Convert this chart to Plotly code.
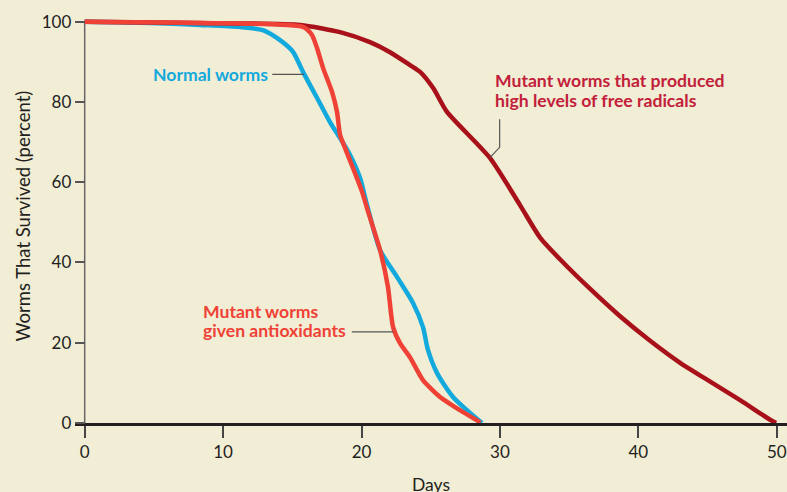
import plotly.graph_objects as go

# ---- data ----
normal_days = [0, 4.72, 8.33, 11.22, 12.88, 14.11, 15.05, 15.77, 16.79, 17.72, 18.45,
               19.17, 19.89, 20.40, 21.34, 22.56, 23.72, 24.44, 24.80, 25.45, 26.61, 28.70]
normal_surv = [100, 99.7, 99.2, 98.7, 97.9, 95.4, 92.5, 87.5, 81.0, 75.0, 71.0,
               66.8, 61.1, 54.3, 43.1, 36.4, 29.9, 23.9, 18.2, 12.5, 6.5, 0]

antiox_days = [0, 8.33, 15.77, 16.42, 16.79, 17.22, 17.87, 18.23, 18.45, 18.81, 19.39,
               20.04, 20.48, 21.34, 21.91, 22.28, 22.78, 23.50, 24.44, 25.67, 27.11, 28.41, 28.56]
antiox_surv = [100, 99.7, 98.7, 96.7, 93.4, 88.5, 82.5, 77.5, 71.8, 68.5, 63.5,
               57.6, 52.6, 43.1, 33.9, 23.9, 19.9, 16.4, 10.7, 6.5, 3.2, 0.5, 0]

radical_days = [0, 8.33, 15.56, 18.45, 20.61, 22.06, 23.50, 24.23, 25.19, 26.16,
                29.29, 31.45, 32.90, 34.34, 36.52, 38.68, 40.85, 43.02, 45.19,
                47.35, 49.52, 49.95]
radical_surv = [100, 99.7, 99.2, 97.4, 94.9, 92.4, 89.2, 87.5, 83.4, 77.6,
                66.0, 54.3, 46.2, 40.8, 33.4, 26.6, 20.5, 15.0, 10.3,
                5.7, 0.8, 0]

x_ticks = [0, 10, 20, 30, 40, 50]
y_ticks = [0, 20, 40, 60, 80, 100]

BG = "#f2edd5"
BLUE = "#12a9dd"
RED = "#ef4136"
DARKRED = "#a8111a"
LABEL_DARKRED = "#c2203a"
INK = "#231f20"
FONT = "Lato, sans-serif"

fig = go.Figure()
fig.add_trace(go.Scatter(x=normal_days, y=normal_surv, mode="lines",
                         line=dict(color=BLUE, width=4.5, shape="spline", smoothing=0.7)))
fig.add_trace(go.Scatter(x=radical_days, y=radical_surv, mode="lines",
                         line=dict(color=DARKRED, width=4.5, shape="spline", smoothing=0.6)))
fig.add_trace(go.Scatter(x=antiox_days, y=antiox_surv, mode="lines",
                         line=dict(color=RED, width=4.5, shape="spline", smoothing=0.6)))

# y-axis line (stops at 100)
fig.add_shape(type="line", xref="x", yref="y", x0=0, x1=0, y0=0, y1=100,
              line=dict(color="#666666", width=1.5), layer="below")

# leader lines
fig.add_shape(type="line", xref="x", yref="y", x0=13.55, x1=15.85, y0=86.9, y1=86.9,
              line=dict(color="#555555", width=1.2))
fig.add_shape(type="line", xref="x", yref="y", x0=19.3, x1=22.3, y0=22.7, y1=22.7,
              line=dict(color="#555555", width=1.2))
fig.add_shape(type="path", xref="x", yref="y",
              path="M 29.98 75.7 L 29.98 68.7 L 29.29 66.2",
              line=dict(color="#555555", width=1.2))

# labels (one annotation per line to keep tight line spacing)
def label(x, y, text, color, anchor):
    fig.add_annotation(x=x, y=y, xref="x", yref="y", text="<b>" + text + "</b>",
                       showarrow=False, xanchor=anchor, yanchor="middle",
                       font=dict(family=FONT, size=17.6, color=color))

label(13.42, 86.97, "Normal worms", BLUE, "right")
label(8.37, 27.9, "Mutant worms", RED, "left")
label(8.37, 23.17, "given antioxidants", RED, "left")
label(29.47, 85.3, "Mutant worms that produced", LABEL_DARKRED, "left")
label(29.47, 80.3, "high levels of free radicals", LABEL_DARKRED, "left")

# axis titles
fig.add_annotation(x=0.5, y=-0.1186, xref="paper", yref="paper", text="Days",
                   showarrow=False, xanchor="center", yanchor="top",
                   font=dict(family=FONT, size=17.5, color=INK))
fig.add_annotation(x=-0.0744, y=0.5, xref="paper", yref="paper",
                   text="Worms That Survived (percent)", textangle=-90,
                   showarrow=False, xanchor="center", yanchor="middle",
                   font=dict(family=FONT, size=18.5, color=INK))

fig.update_layout(
    width=787, height=492,
    margin=dict(l=75, r=0, t=10, b=69),
    paper_bgcolor=BG, plot_bgcolor=BG,
    showlegend=False,
    xaxis=dict(range=[-0.7, 50.74], tickvals=x_ticks, ticks="outside", ticklen=12,
               tickwidth=1.5, tickcolor="#444444", showgrid=False, zeroline=False,
               showline=True, linecolor=INK, linewidth=3, ticklabeloverflow="allow",
               tickfont=dict(family=FONT, size=17, color=INK)),
    yaxis=dict(range=[0, 102.92], tickvals=y_ticks, ticks="outside", ticklen=10,
               tickwidth=1.5, tickcolor="#555555", showgrid=False, zeroline=False,
               showline=False, anchor="free", position=0.0136,
               tickfont=dict(family=FONT, size=17, color=INK)),
)

fig.write_html("out.html", config={"displayModeBar": False},
               post_script="document.body.style.margin='0px';"
                           "document.body.style.background='" + BG + "';")
